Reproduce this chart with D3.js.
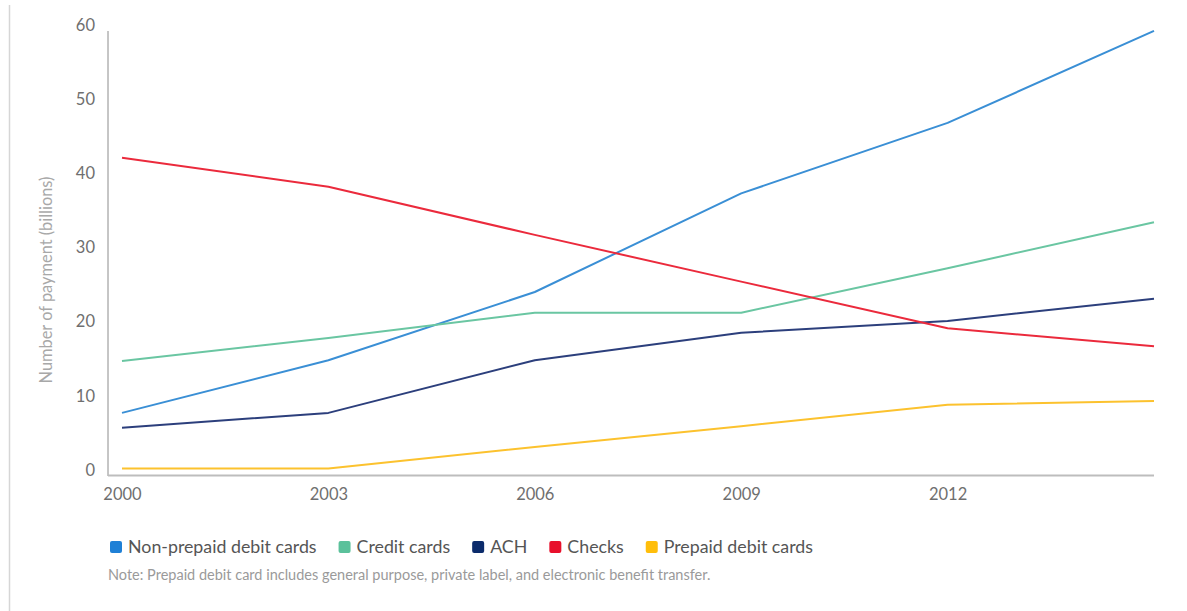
<!DOCTYPE html>
<html>
<head>
<meta charset="utf-8">
<script src="https://cdn.jsdelivr.net/npm/d3@7"></script>
<style>
  body { margin: 0; background: #fff; }
  svg { display: block; font-family: Lato, "Open Sans", sans-serif; }
</style>
</head>
<body>
<div id="chart"></div>
<script>
// data
const years = [2000, 2003, 2006, 2009, 2012, 2015];
const tickYears = [2000, 2003, 2006, 2009, 2012];
const yTicks = [0, 10, 20, 30, 40, 50, 60];

const nonPrepaidDebit = [7.7, 14.8, 24.0, 37.3, 46.8, 59.2];
const creditCards = [14.7, 17.8, 21.2, 21.2, 27.2, 33.4];
const ach = [5.7, 7.7, 14.8, 18.5, 20.1, 23.1];
const checks = [42.1, 38.2, 31.7, 25.4, 19.1, 16.7];
const prepaidDebit = [0.2, 0.2, 3.1, 5.9, 8.8, 9.3];

const seriesNames = ["Non-prepaid debit cards", "Credit cards", "ACH", "Checks", "Prepaid debit cards"];
const seriesValues = [nonPrepaidDebit, creditCards, ach, checks, prepaidDebit];
const lineColors = ["#3a8fd5", "#6ac6a2", "#2c3f7c", "#eb2a3c", "#fcc22e"];
const swatchColors = ["#1f80d6", "#5bc19b", "#0b2b6b", "#e8102c", "#ffbe0b"];

const noteText = "Note: Prepaid debit card includes general purpose, private label, and electronic benefit transfer.";

// config
const width = 1187;
const height = 611;

const svg = d3.select("#chart")
  .append("svg")
  .attr("width", width)
  .attr("height", height);

// scales
const xScale = d3.scaleLinear()
  .domain([2000, 2015])
  .range([122, 1154]);

const yScale = d3.scaleLinear()
  .domain([0, 60])
  .range([470, 25]);

// left page rule
svg.append("line")
  .attr("x1", 9.5).attr("x2", 9.5)
  .attr("y1", 5).attr("y2", height)
  .attr("stroke", "#d6d6d6")
  .attr("stroke-width", 1.5);

// axes
const yAxis = d3.axisLeft(yScale)
  .tickValues(yTicks)
  .tickSize(0)
  .tickPadding(13);

svg.append("g")
  .attr("transform", "translate(108,0)")
  .call(yAxis)
  .call(g => g.select(".domain").remove())
  .call(g => g.selectAll(".tick text")
    .attr("fill", "#6f6f6f")
    .attr("font-size", 16.5)
    .attr("font-family", "Lato, sans-serif"));

svg.append("line")
  .attr("x1", 108).attr("x2", 108)
  .attr("y1", 31).attr("y2", 476)
  .attr("stroke", "#8c8c8c")
  .attr("stroke-width", 1);

const xAxis = d3.axisBottom(xScale)
  .tickValues(tickYears)
  .tickFormat(d3.format("d"))
  .tickSize(0)
  .tickPadding(13);

svg.append("g")
  .attr("transform", "translate(0,475)")
  .call(xAxis)
  .call(g => g.select(".domain").remove())
  .call(g => g.selectAll(".tick text")
    .attr("fill", "#6f6f6f")
    .attr("font-size", 16.5)
    .attr("font-family", "Lato, sans-serif"));

svg.append("line")
  .attr("x1", 108).attr("x2", 1154)
  .attr("y1", 475.5).attr("y2", 475.5)
  .attr("stroke", "#bdbdbd")
  .attr("stroke-width", 2);

// y axis title
svg.append("text")
  .attr("transform", "translate(52,280) rotate(-90)")
  .attr("text-anchor", "middle")
  .attr("fill", "#a8a8a8")
  .attr("font-size", 16.4)
  .text("Number of payment (billions)");

// lines
const line = d3.line()
  .x((d, i) => xScale(years[i]))
  .y(d => yScale(d));

svg.selectAll("path.series")
  .data(seriesValues)
  .join("path")
  .attr("class", "series")
  .attr("d", d => line(d))
  .attr("fill", "none")
  .attr("stroke", (d, i) => lineColors[i])
  .attr("stroke-width", 2)
  .attr("stroke-linejoin", "round");

// legend
const legend = svg.append("g")
  .attr("transform", "translate(110,547)");

let lx = 0;
seriesNames.forEach((name, i) => {
  const item = legend.append("g").attr("transform", `translate(${lx},0)`);
  item.append("rect")
    .attr("x", 0).attr("y", -6)
    .attr("width", 12).attr("height", 12)
    .attr("rx", 2)
    .attr("fill", swatchColors[i]);
  const t = item.append("text")
    .attr("x", 18)
    .attr("y", 0)
    .attr("dy", "0.35em")
    .attr("fill", "#555")
    .attr("font-size", 17.8)
    .text(name);
  lx += 18 + t.node().getComputedTextLength() + 22;
});

// note
svg.append("text")
  .attr("x", 108)
  .attr("y", 580)
  .attr("fill", "#9a9a9a")
  .attr("font-size", 14.5)
  .text(noteText);
</script>
</body>
</html>
